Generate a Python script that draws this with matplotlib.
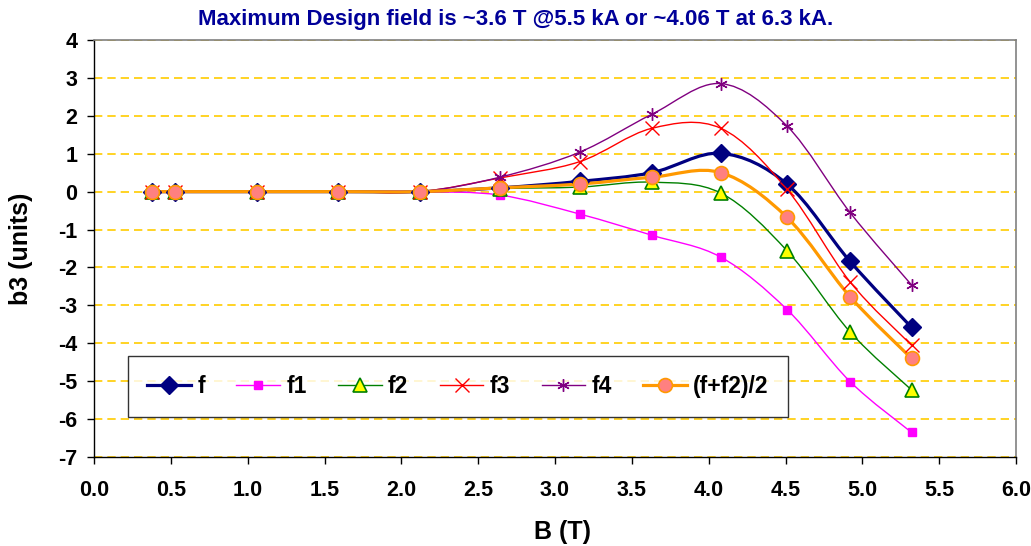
import numpy as np
import matplotlib
matplotlib.use("Agg")
import matplotlib.pyplot as plt
from matplotlib.path import Path
from matplotlib.patches import PathPatch
from matplotlib.lines import Line2D

plt.rcParams['font.family'] = ['Liberation Sans', 'DejaVu Sans']
plt.rcParams['font.weight'] = 'bold'

# ---- data ----
B = [0.38, 0.53, 1.06, 1.59, 2.12, 2.64, 3.16, 3.63, 4.08, 4.51, 4.92, 5.32]
f = [0, 0, 0, 0, 0, 0.10, 0.27, 0.50, 1.01, 0.20, -1.84, -3.58]
f1 = [0, 0, 0, 0, 0, -0.09, -0.59, -1.15, -1.73, -3.11, -5.01, -6.35]
f2 = [0, 0, 0, 0, 0, 0.08, 0.12, 0.25, -0.04, -1.56, -3.70, -5.23]
f3 = [0, 0, 0, 0, 0, 0.36, 0.79, 1.67, 1.67, 0.06, -2.38, -4.05]
f4 = [0, 0, 0, 0, 0, 0.38, 1.04, 2.04, 2.85, 1.73, -0.55, -2.46]
favg = [0, 0, 0, 0, 0, 0.10, 0.20, 0.38, 0.50, -0.68, -2.77, -4.40]

series_names = ['f', 'f1', 'f2', 'f3', 'f4', '(f+f2)/2']
title = 'Maximum Design field is ~3.6 T @5.5 kA or ~4.06 T at 6.3 kA.'
xticks = [0.0, 0.5, 1.0, 1.5, 2.0, 2.5, 3.0, 3.5, 4.0, 4.5, 5.0, 5.5, 6.0]
yticks = [-7, -6, -5, -4, -3, -2, -1, 0, 1, 2, 3, 4]

styles = [
    dict(color='#000080', lw=2.3, marker='D', ms=9, mfc='#000080', mec='#000080', mew=1),
    dict(color='#FF00FF', lw=1.0, marker='s', ms=6, mfc='#FF00FF', mec='#FF00FF', mew=1),
    dict(color='#008000', lw=1.0, marker='^', ms=10, mfc='#FFFF00', mec='#008000', mew=1.2),
    dict(color='#FF0000', lw=1.0, marker='x', ms=10, mfc='none', mec='#FF0000', mew=1.0),
    dict(color='#800080', lw=1.0, marker=(6, 2, 0), ms=9, mfc='none', mec='#800080', mew=1.0),
    dict(color='#FF9900', lw=2.3, marker='o', ms=10, mfc='#FF8080', mec='#FF9900', mew=1.2),
]


def smooth_path(xs, ys):
    pts = np.column_stack([xs, ys]).astype(float)
    n = len(pts)
    verts = [pts[0]]
    codes = [Path.MOVETO]
    for i in range(n - 1):
        p0 = pts[i - 1] if i > 0 else pts[i]
        p1 = pts[i]
        p2 = pts[i + 1]
        p3 = pts[i + 2] if i + 2 < n else pts[i + 1]
        c1 = p1 + (p2 - p0) / 6.0
        c2 = p2 - (p3 - p1) / 6.0
        verts += [c1, c2, p2]
        codes += [Path.CURVE4] * 3
    return Path(verts, codes)


fig = plt.figure(figsize=(10.31, 5.46), dpi=100)
ax = fig.add_axes([94 / 1031, 1 - 457 / 546, (1016 - 94) / 1031, (457 - 40) / 546])

ax.set_xlim(0, 6)
ax.set_ylim(-7, 4)
ax.set_xticks(xticks)
ax.set_xticklabels([f'{t:.1f}' for t in xticks])
ax.set_yticks(yticks)
ax.set_yticklabels([str(t) for t in yticks])

ax.yaxis.grid(True, color='#FFCC00', linestyle=(0, (5, 3)), lw=1.2)
ax.set_axisbelow(True)

for sp in ['top', 'right']:
    ax.spines[sp].set_color('#808080')
    ax.spines[sp].set_linewidth(1.2)
for sp in ['left', 'bottom']:
    ax.spines[sp].set_color('black')
    ax.spines[sp].set_linewidth(1.0)

ax.tick_params(axis='both', direction='out', length=5, width=1, labelsize=15.5)
ax.tick_params(axis='x', pad=11.5)
ax.tick_params(axis='y', pad=7)

handles = []
for ys, name, st in zip([f, f1, f2, f3, f4, favg], series_names, styles):
    patch = PathPatch(smooth_path(B, ys), facecolor='none', edgecolor=st['color'],
                      lw=st['lw'], zorder=3)
    ax.add_patch(patch)
    ax.plot(B, ys, linestyle='none', marker=st['marker'], ms=st['ms'],
            mfc=st['mfc'], mec=st['mec'], mew=st['mew'], zorder=4)
    handles.append(Line2D([], [], color=st['color'], lw=st['lw'], marker=st['marker'],
                          ms=st['ms'], mfc=st['mfc'], mec=st['mec'], mew=st['mew']))

leg = ax.legend(handles, series_names, ncol=6, loc='center',
                bbox_to_anchor=(34 / 922, 38 / 417, 660 / 922, 65 / 417), mode='expand',
                fontsize=16.5, handlelength=1.9, handletextpad=0.27, columnspacing=1.2,
                borderpad=0.85, frameon=True, fancybox=False, borderaxespad=0)
leg.get_frame().set_edgecolor('black')
leg.get_frame().set_linewidth(1.0)
leg.set_zorder(5)

ax.set_xlabel('B (T)', fontsize=18, fontweight='bold', va='top')
ax.xaxis.set_label_coords((562 - 94) / 922, (457 - 520) / 417)
ax.set_ylabel('b3 (units)', fontsize=18, fontweight='bold')
ax.yaxis.set_label_coords((33 - 94) / 922, 0.5)

fig.text(0.5, 1 - 19 / 546, title, ha='center', va='center', color='#000099',
         fontsize=16, fontweight='bold')

fig.savefig('out.png', dpi=100)
